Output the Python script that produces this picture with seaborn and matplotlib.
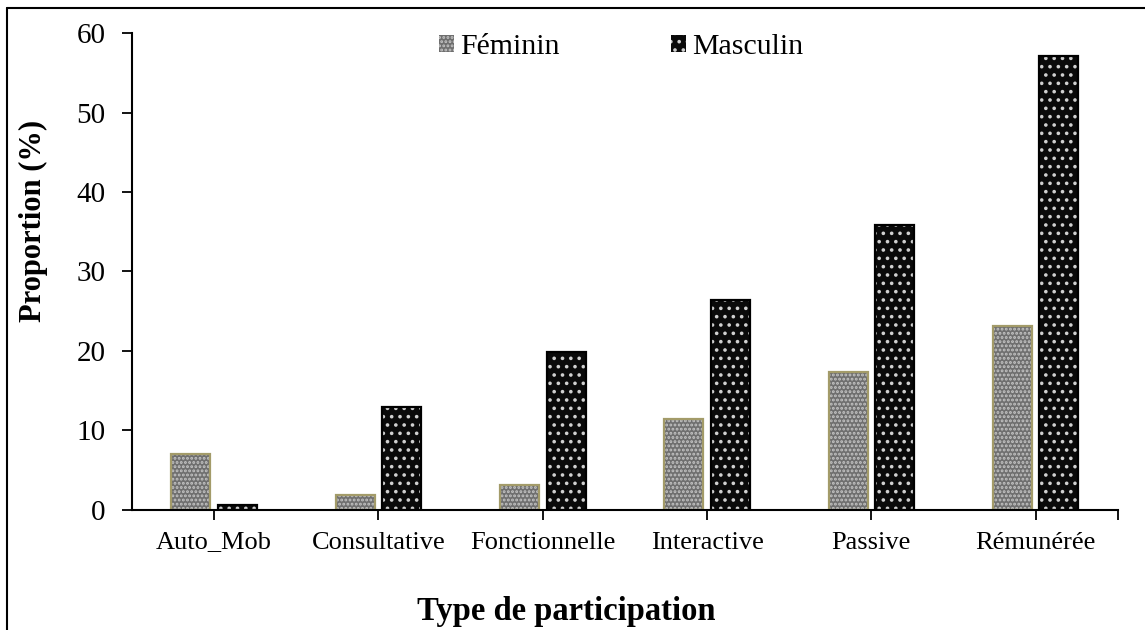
import numpy as np
import pandas as pd
import seaborn as sns
import matplotlib.pyplot as plt
from matplotlib.lines import Line2D
from matplotlib.patches import Rectangle

categories = ['Auto_Mob', 'Consultative', 'Fonctionnelle', 'Interactive', 'Passive', 'Rémunérée']
feminin = [7.0, 1.9, 3.2, 11.5, 17.3, 23.1]
masculin = [0.6, 12.9, 19.9, 26.4, 35.9, 57.1]
groups = ['Féminin', 'Masculin']

df = pd.DataFrame({
    'type': categories * 2,
    'sexe': [groups[0]] * len(categories) + [groups[1]] * len(categories),
    'prop': feminin + masculin,
})

sns.set_style('ticks')
plt.rcParams['font.family'] = ['Liberation Serif', 'DejaVu Serif']
plt.rcParams['text.color'] = 'black'
plt.rcParams['axes.labelcolor'] = 'black'
plt.rcParams['hatch.linewidth'] = 1.4

fig = plt.figure(figsize=(11.45, 6.3), dpi=100)
ax = fig.add_axes([0.1153, 0.1905, 0.861, 0.7571])

sns.barplot(data=df, x='type', y='prop', hue='sexe', order=categories,
            hue_order=groups, width=0.566, gap=0.16, ax=ax, legend=False)

# hatch colour follows the edge colour, so the outlines are drawn on top
styles = {
    0: dict(face='#6f6f6f', hatch='....', hcol='#c4c4c4', edge='#a39b69'),
    1: dict(face='#0a0a0a', hatch='..', hcol='#d0d0d0', edge='#000000'),
}
handles = []
for i, cont in enumerate(ax.containers):
    st = styles[i]
    for p in cont:
        p.set_facecolor(st['face'])
        p.set_edgecolor(st['hcol'])
        p.set_hatch(st['hatch'])
        p.set_linewidth(0)
        ax.add_patch(Rectangle(p.get_xy(), p.get_width(), p.get_height(),
                               fill=False, edgecolor=st['edge'], linewidth=1.6))
    handles.append(Rectangle((0, 0), 1, 1, facecolor=st['face'], edgecolor=st['hcol'],
                             hatch=st['hatch'], linewidth=0))

ax.set_ylim(0, 60)
ax.set_xlim(-0.5, len(categories) - 0.5)
ax.set_yticks(np.arange(0, 61, 10))
ax.set_xticks([len(categories) - 0.5], minor=True)
ax.tick_params(axis='both', which='both', direction='out', length=7, width=1.3,
               colors='black')
ax.tick_params(axis='y', labelsize=21, pad=12)
ax.tick_params(axis='x', labelsize=19, pad=8.5)

ax.set_xlabel('Type de participation', fontsize=23.5, fontweight='bold')
ax.xaxis.label.set_verticalalignment('center')
ax.xaxis.set_label_coords(0.44, -0.212)
ax.set_ylabel('Proportion (%)', fontsize=22, fontweight='bold')
ax.yaxis.label.set_verticalalignment('center')
ax.yaxis.set_label_coords(-0.1004, 0.606)

sns.despine(ax=ax)
for s in ['left', 'bottom']:
    ax.spines[s].set_linewidth(1.5)
    ax.spines[s].set_color('black')

ax.legend(handles, groups, ncol=2, frameon=False, loc='center',
          bbox_to_anchor=(0.496, 0.971), fontsize=21.5, handlelength=0.5,
          handleheight=0.5, handletextpad=0.2, columnspacing=3.75)

# page frame
fig.add_artist(Line2D([0.006, 0.006], [0, 0.987], color='black', linewidth=1.5,
                      transform=fig.transFigure))
fig.add_artist(Line2D([0.006, 1.0], [0.987, 0.987], color='black', linewidth=1.5,
                      transform=fig.transFigure))

fig.savefig('out.png', dpi=100)
